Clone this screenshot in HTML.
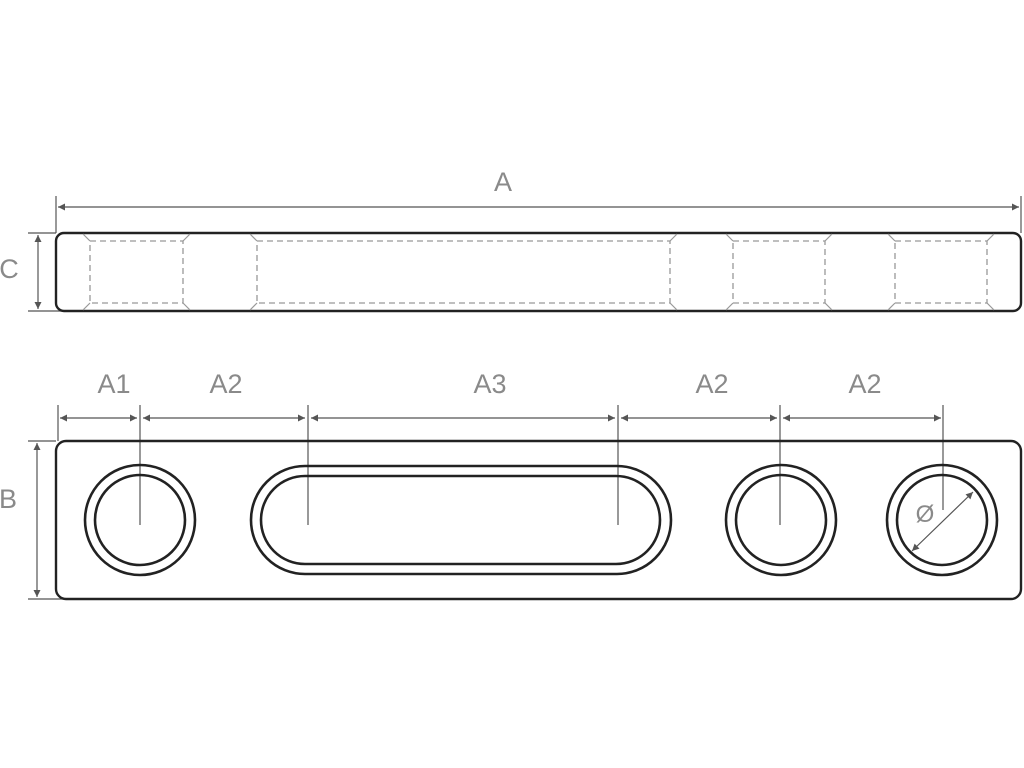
<!DOCTYPE html>
<html><head><meta charset="utf-8"><style>
html,body{margin:0;padding:0;background:#fff;}
svg{display:block;}
text{font-family:"Liberation Sans Narrow","Liberation Sans",sans-serif;fill:#8a8a8a;font-size:27px;}
</style></head><body>
<svg width="1024" height="768" viewBox="0 0 1024 768" xmlns="http://www.w3.org/2000/svg">
<defs>
<marker id="ar" viewBox="0 0 10 10" refX="10" refY="5" markerWidth="12" markerHeight="7" orient="auto-start-reverse" markerUnits="userSpaceOnUse"><path d="M0,0 L10,5 L0,10 z" fill="#555"/></marker>
</defs>
<!-- top view -->
<g stroke="#555" stroke-width="1.2" fill="none">
<line x1="56" y1="196" x2="56" y2="233"/>
<line x1="1021" y1="196" x2="1021" y2="233"/>
<line x1="58" y1="207" x2="1019" y2="207" marker-start="url(#ar)" marker-end="url(#ar)"/>
<line x1="28" y1="233" x2="56" y2="233"/>
<line x1="28" y1="311" x2="78" y2="311"/>
<line x1="38" y1="235" x2="38" y2="309" marker-start="url(#ar)" marker-end="url(#ar)"/>
</g>
<rect x="56" y="233" width="965" height="78" rx="8" fill="none" stroke="#222" stroke-width="2.4"/>
<g stroke="#999" stroke-width="1.3" fill="none" stroke-dasharray="6,4">
<rect x="90" y="241" width="93" height="62"/>
<rect x="257" y="241" width="413" height="62"/>
<rect x="733" y="241" width="92" height="62"/>
<rect x="895" y="241" width="92" height="62"/>
</g>
<g stroke="#999" stroke-width="1.2">
<path d="M90,241 L83,234 M90,303 L83,310 M183,241 L190,234 M183,303 L190,310 M257,241 L250,234 M257,303 L250,310 M670,241 L677,234 M670,303 L677,310 M733,241 L726,234 M733,303 L726,310 M825,241 L832,234 M825,303 L832,310 M895,241 L888,234 M895,303 L888,310 M987,241 L994,234 M987,303 L994,310"/>
</g>
<text x="503" y="191" text-anchor="middle">A</text>
<text x="9" y="278" text-anchor="middle">C</text>
<!-- bottom view -->
<g stroke="#555" stroke-width="1.2" fill="none">
<line x1="58" y1="405" x2="58" y2="441"/>
<line x1="140" y1="405" x2="140" y2="525"/>
<line x1="308" y1="405" x2="308" y2="525"/>
<line x1="618" y1="405" x2="618" y2="525"/>
<line x1="780" y1="405" x2="780" y2="525"/>
<line x1="943" y1="405" x2="943" y2="510"/>
<line x1="60" y1="418" x2="137" y2="418" marker-start="url(#ar)" marker-end="url(#ar)"/>
<line x1="143" y1="418" x2="305" y2="418" marker-start="url(#ar)" marker-end="url(#ar)"/>
<line x1="311" y1="418" x2="615" y2="418" marker-start="url(#ar)" marker-end="url(#ar)"/>
<line x1="621" y1="418" x2="777" y2="418" marker-start="url(#ar)" marker-end="url(#ar)"/>
<line x1="783" y1="418" x2="941" y2="418" marker-start="url(#ar)" marker-end="url(#ar)"/>
<line x1="28" y1="441" x2="56" y2="441"/>
<line x1="28" y1="599" x2="78" y2="599"/>
<line x1="37" y1="443" x2="37" y2="597" marker-start="url(#ar)" marker-end="url(#ar)"/>
<line x1="912" y1="551" x2="973" y2="492" marker-start="url(#ar)" marker-end="url(#ar)"/>
</g>
<rect x="56" y="441" width="965" height="158" rx="10" fill="none" stroke="#222" stroke-width="2.4"/>
<g stroke="#222" stroke-width="2.6" fill="none">
<circle cx="140" cy="520" r="55"/><circle cx="140" cy="520" r="45"/>
<circle cx="781" cy="520" r="55"/><circle cx="781" cy="520" r="45"/>
<circle cx="942" cy="520" r="55"/><circle cx="942" cy="520" r="45"/>
<rect x="251" y="466" width="420" height="108" rx="54"/>
<rect x="261" y="476" width="399" height="88" rx="44"/>
</g>
<text x="114" y="393" text-anchor="middle">A1</text>
<text x="226" y="393" text-anchor="middle">A2</text>
<text x="490" y="393" text-anchor="middle">A3</text>
<text x="712" y="393" text-anchor="middle">A2</text>
<text x="865" y="393" text-anchor="middle">A2</text>
<text x="8" y="508" text-anchor="middle">B</text>
<text x="925" y="522" text-anchor="middle" style="font-size:24px">Ø</text>
</svg>
</body></html>
